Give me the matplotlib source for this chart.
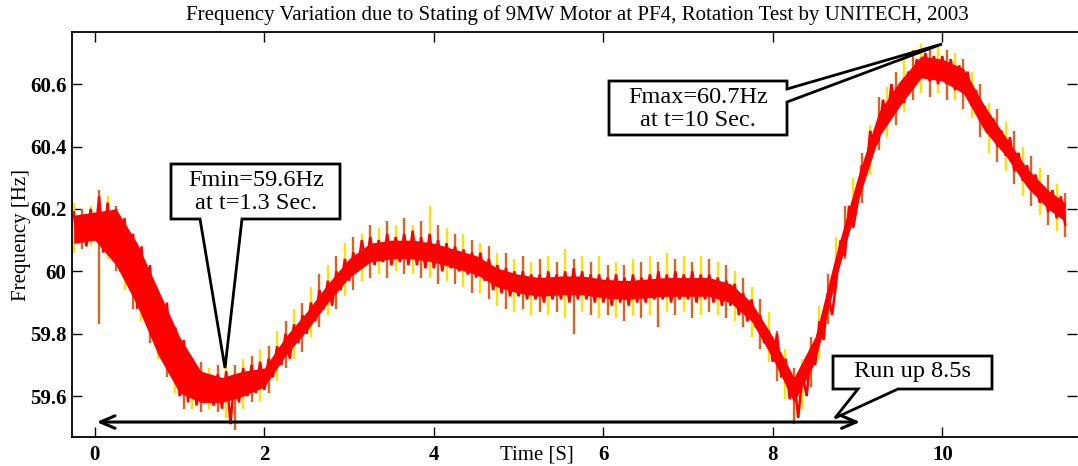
import numpy as np
import matplotlib
matplotlib.use("Agg")
import matplotlib.pyplot as plt
from matplotlib.patches import Polygon

# ---------------- data ----------------
# dense red trace, sampled every 0.05 s from t = -0.25 s to t = 11.45 s
freq_red = [
    60.19, 60.09, 60.18, 60.08, 60.20,
    60.10, 60.24, 60.06, 60.22, 60.05,
    60.20, 60.00, 60.17, 59.97, 60.12,
    59.88, 60.08, 59.86, 60.02, 59.80,
    59.92, 59.74, 59.90, 59.70, 59.82,
    59.60, 59.78, 59.58, 59.72, 59.57,
    59.68, 59.58, 59.66, 59.57, 59.67,
    59.56, 59.68, 59.51, 59.67, 59.58,
    59.69, 59.60, 59.70, 59.61, 59.71,
    59.62, 59.72, 59.66, 59.76, 59.70,
    59.80, 59.72, 59.83, 59.77, 59.86,
    59.80, 59.90, 59.84, 59.94, 59.88,
    59.97, 59.89, 60.00, 59.94, 60.04,
    59.97, 60.06, 60.00, 60.10, 60.02,
    60.11, 60.02, 60.10, 60.03, 60.12,
    60.02, 60.11, 60.03, 60.12, 60.02,
    60.13, 60.02, 60.11, 60.01, 60.12,
    60.01, 60.10, 60.00, 60.09, 60.01,
    60.08, 60.00, 60.07, 59.99, 60.06,
    59.98, 60.06, 59.97, 60.04, 59.94,
    60.02, 59.93, 60.01, 59.92, 60.00,
    59.92, 60.00, 59.91, 59.99, 59.91,
    59.99, 59.90, 60.00, 59.91, 59.99,
    59.91, 60.00, 59.90, 60.01, 59.91,
    60.00, 59.91, 59.99, 59.90, 59.99,
    59.90, 59.98, 59.89, 59.99, 59.90,
    59.98, 59.89, 59.99, 59.90, 59.98,
    59.90, 59.99, 59.91, 60.00, 59.91,
    59.99, 59.90, 60.00, 59.91, 59.99,
    59.91, 60.00, 59.90, 59.99, 59.91,
    59.99, 59.90, 59.98, 59.89, 59.97,
    59.89, 59.96, 59.86, 59.93, 59.84,
    59.91, 59.82, 59.86, 59.77, 59.81,
    59.71, 59.80, 59.66, 59.72, 59.59,
    59.66, 59.53, 59.67, 59.60, 59.75,
    59.70, 59.84, 59.78, 59.93, 59.86,
    59.97, 60.10, 60.05, 60.21, 60.14,
    60.22, 60.34, 60.31, 60.45, 60.40,
    60.42, 60.55, 60.48, 60.60, 60.51,
    60.60, 60.54, 60.64, 60.60, 60.68,
    60.62, 60.70, 60.61, 60.69, 60.60,
    60.69, 60.60, 60.68, 60.58, 60.66,
    60.57, 60.64, 60.53, 60.58, 60.48,
    60.53, 60.45, 60.49, 60.40, 60.45,
    60.37, 60.43, 60.32, 60.38, 60.29,
    60.34, 60.26, 60.31, 60.22, 60.27,
    60.19, 60.26, 60.17, 60.24, 60.15,
]
t_red_start, t_red_end = -0.25, 11.45

# solid core band of the red trace, read every 0.25 s
band_t = [-0.25, 0.0, 0.25, 0.5, 0.75, 1.0, 1.25, 1.5, 1.75, 2.0, 2.25, 2.5,
          2.75, 3.0, 3.25, 3.5, 3.75, 4.0, 4.25, 4.5, 4.75, 5.0, 5.25, 5.5,
          5.75, 6.0, 6.25, 6.5, 6.75, 7.0, 7.25, 7.5, 7.75, 8.0, 8.25, 8.5,
          8.75, 9.0, 9.25, 9.5, 9.75, 10.0, 10.25, 10.5, 10.75, 11.0, 11.25,
          11.45]
band_lo = [60.09, 60.10, 60.02, 59.89, 59.73, 59.61, 59.58, 59.58, 59.60,
           59.63, 59.73, 59.81, 59.90, 59.98, 60.03, 60.04, 60.04, 60.03,
           60.01, 59.99, 59.95, 59.93, 59.92, 59.925, 59.925, 59.915, 59.91,
           59.915, 59.92, 59.92, 59.92, 59.90, 59.84, 59.72, 59.58, 59.71,
           59.98, 60.22, 60.43, 60.53, 60.62, 60.61, 60.57, 60.45, 60.37,
           60.27, 60.20, 60.16]
band_hi = [60.18, 60.19, 60.20, 60.09, 59.94, 59.79, 59.68, 59.66, 59.68,
           59.69, 59.79, 59.87, 59.96, 60.04, 60.09, 60.10, 60.10, 60.09,
           60.07, 60.05, 60.01, 59.99, 59.98, 59.985, 59.985, 59.975, 59.97,
           59.975, 59.98, 59.98, 59.98, 59.96, 59.90, 59.79, 59.66, 59.79,
           60.06, 60.30, 60.51, 60.61, 60.69, 60.68, 60.65, 60.53, 60.43,
           60.33, 60.26, 60.22]

# thin yellow / orange spikes, one every 0.1 s from t = -0.25 s to 11.45 s
spike_hi = [
    60.22, 60.20, 60.21, 60.26, 60.24, 60.21, 60.17, 60.12, 60.06, 60.00,
    59.93, 59.88, 59.80, 59.76, 59.72, 59.71, 59.69, 59.70, 59.71, 59.70,
    59.72, 59.73, 59.75, 59.76, 59.81, 59.84, 59.88, 59.90, 59.95, 59.99,
    60.02, 60.05, 60.09, 60.11, 60.12, 60.15, 60.14, 60.16, 60.15, 60.17,
    60.15, 60.16, 60.21, 60.15, 60.14, 60.12, 60.12, 60.10, 60.09, 60.08,
    60.06, 60.06, 60.04, 60.05, 60.03, 60.04, 60.05, 60.03, 60.07, 60.04,
    60.05, 60.03, 60.05, 60.02, 60.03, 60.02, 60.04, 60.03, 60.05, 60.03,
    60.06, 60.04, 60.05, 60.03, 60.05, 60.04, 60.03, 60.02, 60.00, 59.98,
    59.95, 59.91, 59.87, 59.81, 59.75, 59.69, 59.72, 59.79, 59.89, 59.99,
    60.11, 60.21, 60.30, 60.38, 60.47, 60.56, 60.59, 60.64, 60.69, 60.71,
    60.73, 60.72, 60.72, 60.71, 60.70, 60.68, 60.64, 60.60, 60.54, 60.52,
    60.48, 60.45, 60.40, 60.37, 60.33, 60.31, 60.28, 60.25,
]
spike_lo = [
    60.06, 60.07, 60.08, 59.83, 60.04, 60.00, 59.94, 59.88, 59.84, 59.77,
    59.72, 59.66, 59.61, 59.56, 59.56, 59.55, 59.56, 59.55, 59.53, 59.49,
    59.56, 59.58, 59.58, 59.61, 59.65, 59.69, 59.72, 59.74, 59.79, 59.82,
    59.86, 59.88, 59.92, 59.94, 59.97, 59.98, 59.99, 59.98, 60.00, 59.99,
    59.99, 59.98, 59.98, 59.96, 59.97, 59.96, 59.95, 59.93, 59.93, 59.91,
    59.89, 59.88, 59.87, 59.88, 59.86, 59.87, 59.86, 59.87, 59.85, 59.80,
    59.87, 59.86, 59.85, 59.86, 59.85, 59.84, 59.86, 59.85, 59.86, 59.82,
    59.87, 59.86, 59.87, 59.85, 59.86, 59.87, 59.86, 59.85, 59.84, 59.82,
    59.79, 59.75, 59.71, 59.65, 59.59, 59.51, 59.56, 59.63, 59.72, 59.83,
    59.94, 60.04, 60.14, 60.22, 60.31, 60.39, 60.43, 60.47, 60.51, 60.55,
    60.57, 60.56, 60.57, 60.55, 60.55, 60.52, 60.49, 60.43, 60.38, 60.35,
    60.32, 60.28, 60.24, 60.21, 60.18, 60.15, 60.13, 60.11,
]
t_spk_start, t_spk_end = -0.25, 11.45

x_ticks = [0, 2, 4, 6, 8, 10]
y_ticks = [59.6, 59.8, 60.0, 60.2, 60.4, 60.6]
y_tick_labels = ["59.6", "59.8", "60", "60.2", "60.4", "60.6"]

title = "Frequency Variation due to Stating of 9MW Motor at PF4, Rotation Test by UNITECH, 2003"
xlabel = "Time [S]"
ylabel = "Frequency [Hz]"
fmin_text = "Fmin=59.6Hz\nat t=1.3 Sec."
fmax_text = "Fmax=60.7Hz\nat t=10 Sec."
runup_text = "Run up 8.5s"
runup_start, runup_end, runup_level = 0.02, 9.03, 59.517

# ---------------- figure ----------------
W, H = 1078, 466
plt.rcParams['font.family'] = ['Liberation Serif', 'DejaVu Serif']
fig = plt.figure(figsize=(W / 100, H / 100), dpi=100)
fig.patch.set_facecolor('white')

L, R, T, B = 72, 1077, 32, 437
ax = fig.add_axes([L / W, (H - B) / H, (R - L) / W, (B - T) / H])

t_red = np.linspace(t_red_start, t_red_end, len(freq_red))
t_spk = np.linspace(t_spk_start, t_spk_end, len(spike_hi))

spike_colors = ['#FFE000', '#D9661F'] * (len(spike_hi) // 2 + 1)
ax.vlines(t_spk, spike_lo, spike_hi, colors=spike_colors[:len(spike_hi)],
          lw=1.7, zorder=2)
ax.fill_between(band_t, band_lo, band_hi, color='#FF0000', lw=0, zorder=3)
ax.plot(t_red, freq_red, color='#FF0000', lw=1.8, zorder=3,
        solid_joinstyle='miter')

ax.set_xlim(-0.27, 11.59)
ax.set_ylim(59.469, 60.767)
ax.set_xticks(x_ticks)
ax.set_xticklabels([str(v) for v in x_ticks])
ax.set_yticks(y_ticks)
ax.set_yticklabels(y_tick_labels)
ax.tick_params(axis='both', direction='in', length=7, width=1,
               top=True, right=True, labelsize=15, pad=4)
for lab in ax.get_xticklabels() + ax.get_yticklabels():
    lab.set_fontweight('bold')
ax.tick_params(axis='x', pad=6)
for s in ['left', 'bottom', 'top']:
    ax.spines[s].set_linewidth(1.3)
ax.spines['right'].set_visible(False)

# run-up double arrow
ax.annotate('', xy=(runup_end, runup_level), xytext=(runup_start, runup_level),
            arrowprops=dict(arrowstyle='<->,head_length=0.7,head_width=0.3',
                            lw=2.2, color='black', shrinkA=0, shrinkB=0,
                            mutation_scale=15), zorder=6)

# titles / labels
fig.text(577 / W, 1 - 15 / H, title, ha='center', va='center', fontsize=15)
fig.text(537 / W, 1 - 455 / H, xlabel, ha='center', va='center', fontsize=15)
fig.text(22 / W, 1 - 235 / H, ylabel, ha='center', va='center', fontsize=15,
         rotation=90)


def px(pts):
    return [(x / W, 1 - y / H) for x, y in pts]


def callout(pts):
    fig.add_artist(Polygon(px(pts), closed=True, facecolor='white',
                           edgecolor='black', lw=2.0, transform=fig.transFigure,
                           zorder=10))


callout([(171, 164), (340, 164), (340, 219), (242, 219), (225, 368),
         (200, 219), (171, 219)])
fig.text(256 / W, 1 - 192 / H, fmin_text, ha='center', va='center',
         fontsize=17.5, linespacing=1.1, zorder=11)

callout([(609, 81), (787, 81), (787, 89), (942, 44), (787, 102),
         (787, 135), (609, 135)])
fig.text(698 / W, 1 - 109 / H, fmax_text, ha='center', va='center',
         fontsize=17.5, linespacing=1.1, zorder=11)

callout([(833, 356), (992, 356), (992, 389), (898, 389), (835, 418),
         (858, 389), (833, 389)])
fig.text(912 / W, 1 - 372 / H, runup_text, ha='center', va='center',
         fontsize=17.5, zorder=11)

fig.savefig('out.png', dpi=100, facecolor='white')
